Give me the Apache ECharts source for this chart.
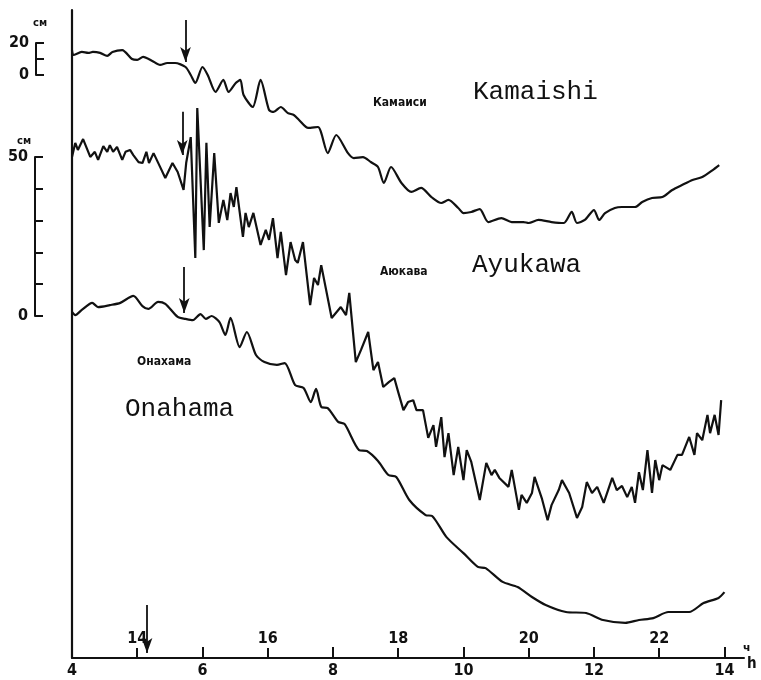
<!DOCTYPE html>
<html>
<head>
<meta charset="utf-8">
<script src="https://cdn.jsdelivr.net/npm/echarts@6/dist/echarts.min.js"></script>
<style>
  html, body { margin: 0; padding: 0; background: #fff; }
  #chart { width: 761px; height: 680px; }
</style>
</head>
<body>
<div id="chart"></div>
<script>
// Tide-gauge records of three stations.
// Lower time scale in hours; the upper scale is local time (lower + 9 h).
const hourTicks = [4, 6, 8, 10, 12, 14];
const localHourTicks = [5, 7, 9, 11, 13];
const localOffset = 9;

// Water level, [hour, cm]
const kamaishi = [
  [4.00, 15.6], [4.02, 12.5], [4.15, 14.4], [4.25, 13.8], [4.32, 14.4], [4.43, 13.8],
  [4.54, 11.9], [4.62, 14.4], [4.77, 15.6], [4.92, 10.0], [5.00, 9.4], [5.09, 11.3],
  [5.23, 8.8], [5.35, 6.3], [5.46, 7.5], [5.58, 7.5], [5.74, 5.0], [5.82, 0.0],
  [5.89, -5.0], [6.00, 5.0], [6.08, 0.0], [6.20, -10.6], [6.32, -3.1], [6.40, -10.6],
  [6.51, -5.0], [6.58, -3.1], [6.63, -12.5], [6.77, -20.0], [6.89, -3.1], [7.02, -21.9],
  [7.09, -23.1], [7.20, -20.0], [7.31, -23.8], [7.40, -25.0], [7.48, -28.1], [7.62, -33.1],
  [7.77, -32.5], [7.92, -48.8], [8.05, -37.5], [8.23, -48.8], [8.32, -51.9], [8.46, -51.3],
  [8.58, -54.4], [8.69, -57.5], [8.78, -67.5], [8.89, -57.5], [9.05, -67.5], [9.20, -73.1],
  [9.35, -70.6], [9.51, -76.3], [9.66, -80.0], [9.77, -78.1], [9.92, -83.1], [10.00, -86.3],
  [10.12, -85.6], [10.25, -83.8], [10.38, -91.9], [10.58, -89.4], [10.74, -91.9], [10.92, -91.9],
  [11.00, -92.5], [11.15, -90.6], [11.35, -91.9], [11.54, -92.5], [11.66, -85.6], [11.74, -92.5],
  [11.86, -90.6], [12.00, -84.4], [12.08, -90.6], [12.17, -86.3], [12.32, -83.1], [12.43, -82.5],
  [12.63, -82.5], [12.74, -79.4], [12.89, -76.9], [13.05, -76.3], [13.20, -71.9], [13.35, -68.8],
  [13.51, -65.6], [13.66, -63.8], [13.82, -59.4], [13.92, -56.3]
];

const ayukawa = [
  [4.00, 49.7], [4.05, 54.1], [4.09, 51.9], [4.17, 55.3], [4.28, 49.7], [4.35, 51.3],
  [4.40, 48.8], [4.48, 53.1], [4.54, 51.3], [4.58, 53.4], [4.63, 51.3], [4.69, 52.8],
  [4.77, 48.8], [4.82, 51.3], [4.89, 51.9], [4.94, 50.3], [5.02, 48.1], [5.08, 47.8],
  [5.14, 51.3], [5.18, 47.8], [5.25, 50.9], [5.35, 46.6], [5.43, 43.1], [5.54, 47.8],
  [5.62, 45.0], [5.71, 39.4], [5.75, 47.8], [5.82, 55.9], [5.89, 18.1], [5.92, 65.0],
  [6.02, 20.6], [6.06, 54.1], [6.11, 27.8], [6.18, 50.9], [6.25, 29.1], [6.32, 36.3],
  [6.38, 30.0], [6.43, 38.4], [6.48, 34.1], [6.52, 40.3], [6.62, 24.7], [6.66, 32.2],
  [6.71, 27.8], [6.78, 32.2], [6.89, 22.2], [6.97, 26.9], [7.02, 23.8], [7.08, 30.6],
  [7.15, 18.1], [7.20, 26.3], [7.28, 12.8], [7.35, 23.1], [7.42, 17.5], [7.46, 16.6],
  [7.54, 23.1], [7.65, 3.4], [7.71, 11.9], [7.77, 9.7], [7.82, 15.9], [7.98, -0.6],
  [8.12, 2.8], [8.20, 0.3], [8.25, 7.2], [8.35, -14.4], [8.43, -10.6], [8.54, -5.0],
  [8.62, -16.9], [8.69, -14.4], [8.77, -22.2], [8.86, -20.6], [8.94, -19.4], [9.00, -23.8],
  [9.08, -29.4], [9.15, -26.9], [9.23, -26.3], [9.28, -29.4], [9.38, -29.4], [9.46, -38.1],
  [9.54, -34.1], [9.58, -40.9], [9.66, -31.6], [9.71, -44.1], [9.77, -36.6], [9.85, -49.7],
  [9.92, -40.9], [10.00, -51.3], [10.05, -41.9], [10.12, -45.6], [10.25, -57.5], [10.35, -45.9],
  [10.43, -49.7], [10.48, -48.1], [10.55, -50.6], [10.69, -53.4], [10.74, -48.1], [10.85, -60.6],
  [10.89, -55.9], [10.97, -58.4], [11.05, -55.3], [11.09, -50.3], [11.20, -56.9], [11.29, -63.8],
  [11.35, -59.1], [11.46, -54.4], [11.51, -51.3], [11.62, -55.3], [11.74, -63.1], [11.82, -59.7],
  [11.89, -51.9], [11.97, -55.3], [12.05, -53.4], [12.15, -58.4], [12.28, -50.6], [12.35, -54.4],
  [12.43, -53.1], [12.51, -56.6], [12.58, -53.4], [12.63, -58.4], [12.69, -48.8], [12.75, -54.4],
  [12.82, -41.9], [12.89, -55.3], [12.94, -45.0], [13.00, -51.3], [13.05, -46.6], [13.17, -48.1],
  [13.28, -43.4], [13.35, -43.4], [13.46, -37.8], [13.54, -43.4], [13.58, -36.6], [13.66, -38.8],
  [13.74, -30.9], [13.78, -36.6], [13.85, -30.9], [13.91, -37.2], [13.95, -26.3]
];

const onahama = [
  [4.00, 1.3], [4.05, 0.3], [4.15, 1.9], [4.31, 4.1], [4.40, 2.8], [4.58, 3.4],
  [4.74, 4.1], [4.94, 6.3], [5.08, 3.1], [5.17, 2.2], [5.32, 4.4], [5.43, 3.8],
  [5.62, -0.3], [5.74, -0.9], [5.85, -1.3], [5.97, 0.6], [6.05, -0.9], [6.14, 0.0],
  [6.26, -1.9], [6.35, -5.9], [6.43, -0.6], [6.57, -9.7], [6.68, -5.0], [6.82, -12.2],
  [6.95, -14.4], [7.14, -15.3], [7.26, -14.7], [7.42, -21.6], [7.55, -22.5], [7.66, -26.9],
  [7.74, -22.8], [7.82, -28.4], [7.92, -28.8], [8.08, -33.1], [8.18, -33.8], [8.40, -41.9],
  [8.52, -42.2], [8.69, -45.3], [8.85, -49.7], [8.97, -50.3], [9.17, -57.5], [9.42, -62.2],
  [9.52, -62.5], [9.74, -69.1], [10.00, -74.1], [10.22, -78.4], [10.34, -78.8], [10.60, -83.1],
  [10.83, -84.7], [11.05, -87.8], [11.26, -90.3], [11.57, -92.5], [11.88, -92.8], [12.14, -95.0],
  [12.48, -95.9], [12.69, -95.0], [12.91, -94.4], [13.14, -92.5], [13.46, -92.5], [13.68, -89.7],
  [13.91, -88.1], [14.00, -86.3]
];

// Arrival arrows: [hour, start cm, tip cm]
const kamaishiArrow = [5.74, 34.4, 8.1];
const ayukawaArrow = [5.69, 63.8, 50.3];
const onahamaArrow = [5.72, 15.3, 0.9];
const quakeArrow = [5.15, -90.3, -105.3];

// Level scale bars (cm)
const kamaishiScale = [0, 20];
const ayukawaScale = [0, 50];
const scaleStep = 10;

const INK = '#111';
const NARROW = "'Liberation Sans Narrow','DejaVu Sans Condensed','DejaVu Sans',sans-serif";
const MONO = "'Liberation Mono','DejaVu Sans Mono',monospace";
const SMALL_CYR = "bold 12px 'DejaVu Sans Condensed','DejaVu Sans'";

function arrowLine(a) {
  return [{ coord: [a[0], a[1]] }, { coord: [a[0], a[2]] }];
}

function arrowMark(list) {
  return {
    silent: true,
    animation: false,
    symbol: ['none', 'arrow'],
    symbolSize: [8, 15],
    label: { show: false },
    emphasis: { disabled: true },
    lineStyle: { color: INK, width: 1.8, type: 'solid' },
    data: list.map(arrowLine)
  };
}

function lineSeries(name, data, yIndex, smooth, marks) {
  return {
    name: name,
    type: 'line',
    xAxisIndex: 0,
    yAxisIndex: yIndex,
    data: data,
    showSymbol: false,
    smooth: smooth,
    lineStyle: { color: INK, width: 2.2 },
    emphasis: { disabled: true },
    markLine: marks
  };
}

const labelFont = { color: INK, fontFamily: NARROW, fontWeight: 'bold', fontSize: 16 };

function scaleAxis(grid, range) {
  return {
    type: 'value', gridIndex: grid, min: range[0], max: range[1], interval: scaleStep,
    axisLine: { show: true, onZero: false, lineStyle: { color: INK, width: 2 } },
    axisTick: { show: true, inside: true, length: 8, lineStyle: { color: INK, width: 2 } },
    axisLabel: Object.assign({
      margin: 7,
      formatter: function (v) { return (v === range[0] || v === range[1]) ? String(v) : ''; }
    }, labelFont),
    splitLine: { show: false }
  };
}

const chart = echarts.init(document.getElementById('chart'), null, { renderer: 'canvas' });

chart.setOption({
  animation: false,
  backgroundColor: '#fff',
  grid: [
    { left: 72, right: 17, top: 10, bottom: 22 },
    { left: 36, top: 43, width: 1, height: 32 },
    { left: 35, top: 157, width: 1, height: 159 }
  ],
  xAxis: [
    {
      type: 'value', gridIndex: 0, min: 4, max: 14.3, position: 'bottom',
      axisLine: { show: true, onZero: false, lineStyle: { color: INK, width: 2 } },
      axisTick: { show: true, inside: true, length: 11, customValues: hourTicks, lineStyle: { color: INK, width: 2 } },
      axisLabel: Object.assign({ margin: 5, customValues: hourTicks }, labelFont),
      splitLine: { show: false }
    },
    {
      type: 'value', gridIndex: 0, min: 4, max: 14.3, position: 'bottom',
      axisLine: { show: false, onZero: false },
      axisTick: { show: true, inside: true, length: 10, customValues: localHourTicks, lineStyle: { color: INK, width: 2 } },
      axisLabel: Object.assign({
        inside: true, margin: 11, customValues: localHourTicks,
        formatter: function (v) { return String(v + localOffset); }
      }, labelFont),
      splitLine: { show: false }
    },
    { type: 'value', gridIndex: 1, show: false, min: 0, max: 1 },
    { type: 'value', gridIndex: 2, show: false, min: 0, max: 1 }
  ],
  yAxis: [
    {
      // Kamaishi level, 1.6 px per cm
      type: 'value', gridIndex: 0, min: -364.375, max: 40.625,
      axisLine: { show: true, onZero: false, lineStyle: { color: INK, width: 2.2 } },
      axisTick: { show: false }, axisLabel: { show: false }, splitLine: { show: false }
    },
    {
      // Ayukawa and Onahama level, 3.2 px per cm
      type: 'value', gridIndex: 0, min: -106.875, max: 95.625,
      axisLine: { show: false, onZero: false },
      axisTick: { show: false }, axisLabel: { show: false }, splitLine: { show: false }
    },
    scaleAxis(1, kamaishiScale),
    scaleAxis(2, ayukawaScale)
  ],
  series: [
    lineSeries('Kamaishi', kamaishi, 0, 0.25, arrowMark([kamaishiArrow])),
    lineSeries('Ayukawa', ayukawa, 1, false, arrowMark([ayukawaArrow])),
    lineSeries('Onahama', onahama, 1, 0.25, arrowMark([onahamaArrow, quakeArrow]))
  ],
  graphic: [
    { type: 'text', left: 33, top: 18, style: { text: 'см', fill: INK, font: "bold 10px 'DejaVu Sans'" } },
    { type: 'text', left: 17, top: 136, style: { text: 'см', fill: INK, font: "bold 10px 'DejaVu Sans'" } },
    { type: 'text', x: 373, y: 103, style: { text: 'Камаиси', fill: INK, font: SMALL_CYR, verticalAlign: 'middle' } },
    { type: 'text', x: 473, y: 92, style: { text: 'Kamaishi', fill: INK, font: '26px ' + MONO, verticalAlign: 'middle' } },
    { type: 'text', x: 380, y: 272, style: { text: 'Аюкава', fill: INK, font: SMALL_CYR, verticalAlign: 'middle' } },
    { type: 'text', x: 472, y: 265, style: { text: 'Ayukawa', fill: INK, font: '26px ' + MONO, verticalAlign: 'middle' } },
    { type: 'text', x: 137, y: 362, style: { text: 'Онахама', fill: INK, font: SMALL_CYR, verticalAlign: 'middle' } },
    { type: 'text', x: 125, y: 409, style: { text: 'Onahama', fill: INK, font: '26px ' + MONO, verticalAlign: 'middle' } },
    { type: 'text', x: 743, y: 648, style: { text: 'ч', fill: INK, font: "bold 11px 'DejaVu Sans'", verticalAlign: 'middle' } },
    { type: 'text', x: 747, y: 664, style: { text: 'h', fill: INK, font: "bold 15px " + NARROW, verticalAlign: 'middle' } }
  ]
});
</script>
</body>
</html>
